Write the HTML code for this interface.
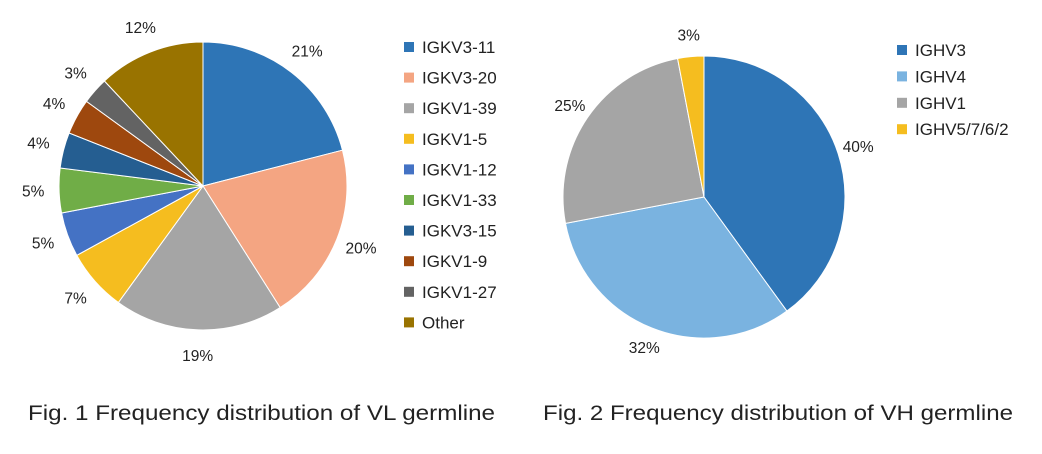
<!DOCTYPE html>
<html><head><meta charset="utf-8"><style>
body{margin:0;background:#fff;width:1042px;height:449px;overflow:hidden;font-family:"Liberation Sans","Noto Sans CJK SC",sans-serif;}
svg text{font-family:"Liberation Sans","Noto Sans CJK SC",sans-serif;fill:#222;}
</style></head><body>
<svg id="chart" width="1042" height="449">
<g id="pie1"></g>
<g id="leg1"></g>
<g id="pie2"></g>
<g id="leg2"></g>
<text x="28" y="420" font-size="21" textLength="467" lengthAdjust="spacingAndGlyphs">Fig. 1  Frequency distribution of VL germline</text>
<text x="543" y="420" font-size="21" textLength="470" lengthAdjust="spacingAndGlyphs">Fig. 2  Frequency distribution of VH germline</text>
</svg>
<script>
const vlCategories=["IGKV3-11","IGKV3-20","IGKV1-39","IGKV1-5","IGKV1-12","IGKV1-33","IGKV3-15","IGKV1-9","IGKV1-27","Other"];
const vlValues=[21,20,19,7,5,5,4,4,3,12];
const vlColors=["#2E75B6","#F4A582","#A5A5A5","#F5BD1F","#4472C4","#70AD47","#255E91","#9E480E","#636363","#997300"];
const vhCategories=["IGHV3","IGHV4","IGHV1","IGHV5/7/6/2"];
const vhValues=[40,32,25,3];
const vhColors=["#2E75B6","#7AB3E0","#A5A5A5","#F5BD1F"];
const NS="http://www.w3.org/2000/svg";
function mk(tag,attrs,parent){const e=document.createElementNS(NS,tag);for(const k in attrs)e.setAttribute(k,attrs[k]);parent.appendChild(e);return e;}
function pie(g,cx,cy,r,vals,cols,cats,lr){
  const tot=vals.reduce((a,b)=>a+b,0);let acc=0;
  vals.forEach((v,i)=>{
    const a0=acc/tot*2*Math.PI;acc+=v;const a1=acc/tot*2*Math.PI;
    const x0=cx+r*Math.sin(a0),y0=cy-r*Math.cos(a0),x1=cx+r*Math.sin(a1),y1=cy-r*Math.cos(a1);
    const p=mk('path',{d:`M${cx},${cy}L${x0},${y0}A${r},${r} 0 ${a1-a0>Math.PI?1:0} 1 ${x1},${y1}Z`,fill:cols[i],stroke:'#fff','stroke-width':1},g);
    
    
    const am=(a0+a1)/2;
    const t=mk('text',{x:cx+r*lr*Math.sin(am),y:cy-r*lr*Math.cos(am)+5,'font-size':15.5,'text-anchor':'middle'},g);
    t.textContent=Math.round(v/tot*100)+'%';
    
    
  });
}
function legend(g,x,y,dy,cats,cols){
  cats.forEach((c,i)=>{
    const r=mk('rect',{x:x,y:y+i*dy-5,width:10,height:10,fill:cols[i]},g);
    
    
    const t=mk('text',{x:x+18,y:y+i*dy+6,'font-size':17},g);
    t.textContent=c;
    
    
  });
}
pie(document.getElementById('pie1'),203,186,144,vlValues,vlColors,vlCategories,1.18);
legend(document.getElementById('leg1'),404,47,30.6,vlCategories,vlColors);
pie(document.getElementById('pie2'),704,197,141,vhValues,vhColors,vhCategories,1.15);
legend(document.getElementById('leg2'),897,50,26.4,vhCategories,vhColors);
</script>
</body></html>
